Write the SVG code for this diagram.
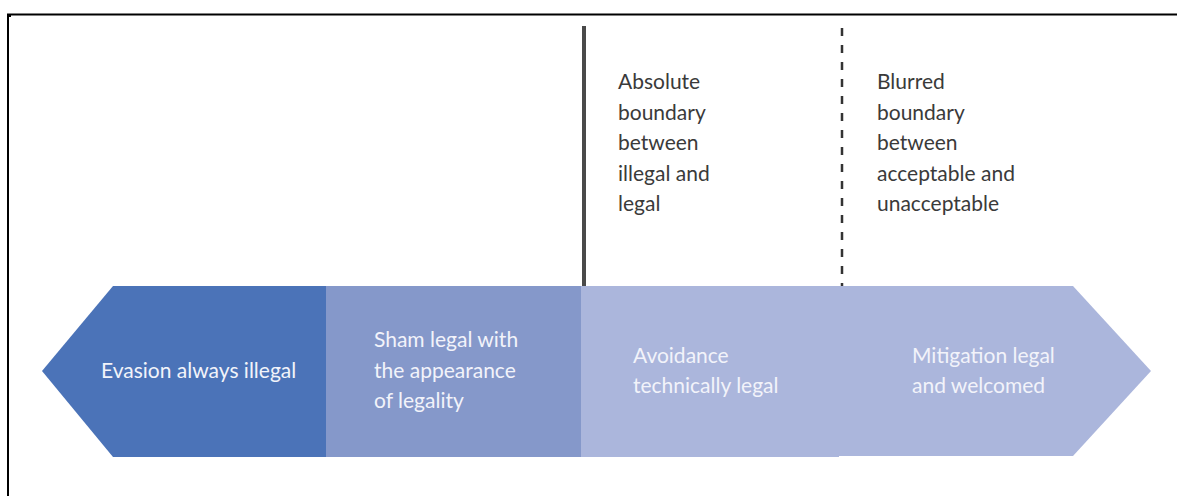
<svg xmlns="http://www.w3.org/2000/svg" width="1177" height="496" viewBox="0 0 1177 496">
<style>
.lbl{font-family:Lato,"Open Sans","Liberation Sans",sans-serif;font-size:21px;fill:#3a3a3a}
.in{font-family:Lato,"Open Sans","Liberation Sans",sans-serif;font-size:21px;fill:#f2f3fa}
</style>
<rect width="1177" height="496" fill="#fff"/>
<g id="frame">
<line x1="7" y1="14.5" x2="1177" y2="14.5" stroke="#000" stroke-width="2"/>
<line x1="8" y1="14" x2="8" y2="496" stroke="#000" stroke-width="2"/>
<rect x="7" y="14" width="4" height="3" fill="#000"/>
</g>
<g id="evasion">
<polygon points="42,371 113,286 327,286 327,457 113,457" fill="#4b73b8"/>
<text class="in" x="101" y="378">Evasion always illegal</text>
</g>
<g id="sham">
<rect x="326" y="286" width="256" height="171" fill="#8598ca"/>
<text class="in" x="374" y="347">Sham legal with</text>
<text class="in" x="374" y="378">the appearance</text>
<text class="in" x="374" y="408">of legality</text>
</g>
<g id="avoidance">
<rect x="581" y="286" width="258" height="171" fill="#abb6dc"/>
<text class="in" x="633" y="363">Avoidance</text>
<text class="in" x="633" y="393">technically legal</text>
</g>
<g id="mitigation">
<polygon points="838,286 1073,286 1151,371 1073,456 838,456" fill="#abb6dc"/>
<text class="in" x="912" y="363">Mitigation legal</text>
<text class="in" x="912" y="393">and welcomed</text>
</g>
<g id="connectors">
<line x1="584" y1="26" x2="584" y2="286" stroke="#4a4a4a" stroke-width="4"/>
<line x1="842" y1="28" x2="842" y2="286" stroke="#333" stroke-width="2.5" stroke-dasharray="8,9"/>
</g>
<g id="absolute">
<text class="lbl" x="618" y="89">Absolute</text>
<text class="lbl" x="618" y="120">boundary</text>
<text class="lbl" x="618" y="150">between</text>
<text class="lbl" x="618" y="181">illegal and</text>
<text class="lbl" x="618" y="211">legal</text>
</g>
<g id="blurred">
<text class="lbl" x="877" y="89">Blurred</text>
<text class="lbl" x="877" y="120">boundary</text>
<text class="lbl" x="877" y="150">between</text>
<text class="lbl" x="877" y="181">acceptable and</text>
<text class="lbl" x="877" y="211">unacceptable</text>
</g>
</svg>
